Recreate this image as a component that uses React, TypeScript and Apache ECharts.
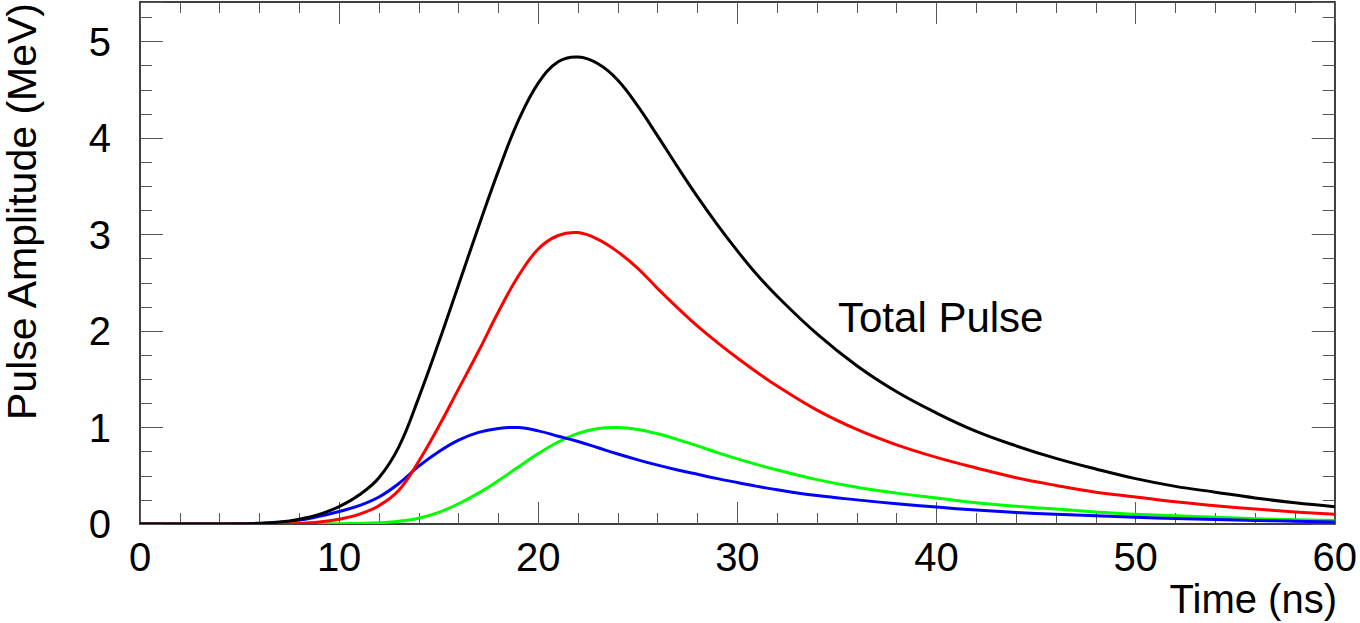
import React, { useEffect, useRef } from "react";
import * as echarts from "echarts";

// time samples (ns)
const timeNs = [
  0, 4, 5, 6, 7, 8, 9,
  10, 11, 12, 13, 14, 15, 16, 17, 18, 19, 20, 21, 22, 23, 24, 25, 26, 27, 28, 29, 30, 31, 32,
  34, 36, 38, 40, 42, 44, 46, 48, 50, 52, 54, 56, 58, 60,
];

// pulse amplitudes (MeV)
const totalPulse = [
  0, 0, 0, 0.008, 0.02, 0.05, 0.1,
  0.18, 0.3, 0.48, 0.8, 1.31, 1.88, 2.48, 3.08, 3.66, 4.18, 4.57, 4.79, 4.84, 4.77, 4.6, 4.33, 4.02, 3.7, 3.39, 3.1, 2.83, 2.58, 2.36,
  1.97, 1.64, 1.37, 1.15, 0.96, 0.81, 0.68, 0.57, 0.47, 0.39, 0.33, 0.27, 0.22, 0.18,
];
const redPulse = [
  0, 0, 0, 0, 0.002, 0.006, 0.02,
  0.05, 0.1, 0.19, 0.35, 0.65, 1.01, 1.4, 1.79, 2.2, 2.57, 2.85, 2.99, 3.02, 2.95, 2.82, 2.65, 2.44, 2.24, 2.05, 1.88, 1.72, 1.57, 1.43,
  1.18, 0.98, 0.82, 0.69, 0.58, 0.48, 0.4, 0.33, 0.28, 0.23, 0.19, 0.155, 0.125, 0.1,
];
const bluePulse = [
  0, 0, 0.002, 0.006, 0.016, 0.04, 0.08,
  0.13, 0.19, 0.28, 0.42, 0.6, 0.75, 0.87, 0.95, 0.99, 1.0, 0.965, 0.91, 0.855, 0.79, 0.725, 0.665, 0.61, 0.56, 0.515, 0.47, 0.43, 0.39, 0.355,
  0.295, 0.25, 0.21, 0.175, 0.145, 0.12, 0.1, 0.085, 0.07, 0.057, 0.046, 0.037, 0.028, 0.02,
];
const greenPulse = [
  0, 0, 0, 0, 0, 0, 0.001,
  0.003, 0.006, 0.012, 0.028, 0.06, 0.12, 0.21, 0.32, 0.45, 0.59, 0.73, 0.85, 0.94, 0.99, 1.0, 0.98, 0.935, 0.875, 0.81, 0.74, 0.675, 0.615, 0.56,
  0.46, 0.38, 0.32, 0.27, 0.22, 0.185, 0.155, 0.125, 0.1, 0.085, 0.07, 0.055, 0.045, 0.035,
];

const X_MIN = 0;
const X_MAX = 60;
const X_STEP = 10;
const Y_MIN = 0;
const Y_MAX = 5.41;
const Y_STEP = 1;
const Y_MINOR_STEP = 0.25;

const xTitle = "Time (ns)";
const yTitle = "Pulse Amplitude (MeV)";
const curveLabel = "Total Pulse";

const FONT = '"Liberation Sans", Arial, Helvetica, sans-serif';

function pairs(ys: number[]) {
  return timeNs.map((t, i) => [t, ys[i]]);
}

export default function App() {
  const ref = useRef<HTMLDivElement>(null);

  useEffect(() => {
    if (!ref.current) return;
    const chart = echarts.init(ref.current, undefined, { renderer: "svg" });

    const axisLine = { show: true, onZero: false, lineStyle: { color: "#000", width: 1.5 } };
    const tickStyle = { color: "#555", width: 1 };

    const xCommon = (pos: string, showLabel: boolean) => ({
      type: "value",
      position: pos,
      min: X_MIN,
      max: X_MAX,
      interval: X_STEP,
      axisLine,
      axisTick: { show: true, inside: true, length: 22, lineStyle: tickStyle },
      minorTick: { show: true, splitNumber: 5, length: 11, lineStyle: tickStyle },
      axisLabel: showLabel
        ? { show: true, fontSize: 40, color: "#000", fontFamily: FONT, margin: 13 }
        : { show: false },
      splitLine: { show: false },
      minorSplitLine: { show: false },
    });

    const yMajor = (pos: string, showLabel: boolean) => ({
      type: "value",
      position: pos,
      min: Y_MIN,
      max: Y_MAX,
      interval: Y_STEP,
      axisLine,
      axisTick: { show: true, inside: true, length: 23, lineStyle: tickStyle },
      axisLabel: showLabel
        ? {
            show: true,
            fontSize: 40,
            color: "#000",
            fontFamily: FONT,
            margin: 29,
            formatter: (v: number) => (Math.abs(v - Math.round(v)) < 1e-9 ? String(Math.round(v)) : ""),
          }
        : { show: false },
      splitLine: { show: false },
    });

    const yMinor = (pos: string) => ({
      type: "value",
      position: pos,
      min: Y_MIN,
      max: Y_MAX,
      interval: Y_MINOR_STEP,
      axisLine: { show: false, onZero: false },
      axisTick: { show: true, inside: true, length: 12, lineStyle: tickStyle },
      axisLabel: { show: false },
      splitLine: { show: false },
    });

    // smooth curve through the read points, positioned with the chart's own axes (api.coord)
    const curve = (name: string, ys: number[], color: string, z: number) => ({
      name,
      type: "custom",
      coordinateSystem: "cartesian2d",
      xAxisIndex: 0,
      yAxisIndex: 0,
      data: pairs(ys),
      encode: { x: 0, y: 1 },
      clip: true,
      z,
      renderItem: (params: any, api: any) => {
        if (params.dataIndex !== 0) return null;
        const pts = timeNs.map((t, i) => api.coord([t, ys[i]]));
        return {
          type: "polyline",
          silent: true,
          shape: { points: pts, smooth: 0.4 },
          style: { stroke: color, lineWidth: 3, fill: null, lineJoin: "round" },
        };
      },
    });

    chart.setOption({
      animation: false,
      backgroundColor: "#fff",
      grid: { left: 140, right: 22, top: 2, bottom: 99, containLabel: false },
      xAxis: [xCommon("bottom", true), xCommon("top", false)],
      yAxis: [yMajor("left", true), yMinor("left"), yMajor("right", false), yMinor("right")],
      series: [
        curve("Total", totalPulse, "#000000", 5),
        curve("Red", redPulse, "#ff0000", 4),
        curve("Blue", bluePulse, "#0000ff", 3),
        curve("Green", greenPulse, "#00ff00", 2),
      ],
      graphic: [
        {
          type: "text",
          x: 22,
          y: 420,
          rotation: Math.PI / 2,
          style: {
            text: yTitle,
            fontSize: 41,
            fontFamily: FONT,
            fill: "#000",
            align: "left",
            verticalAlign: "middle",
          },
        },
        {
          type: "text",
          x: 1337,
          y: 599,
          style: {
            text: xTitle,
            fontSize: 40,
            fontFamily: FONT,
            fill: "#000",
            align: "right",
            verticalAlign: "middle",
          },
        },
        {
          type: "text",
          x: 838,
          y: 317,
          style: {
            text: curveLabel,
            fontSize: 42,
            fontFamily: FONT,
            fill: "#000",
            align: "left",
            verticalAlign: "middle",
          },
        },
      ],
    });

    return () => chart.dispose();
  }, []);

  return (
    <div
      ref={ref}
      style={{ position: "absolute", left: 0, top: 0, width: 1360, height: 623, background: "#fff" }}
    />
  );
}
